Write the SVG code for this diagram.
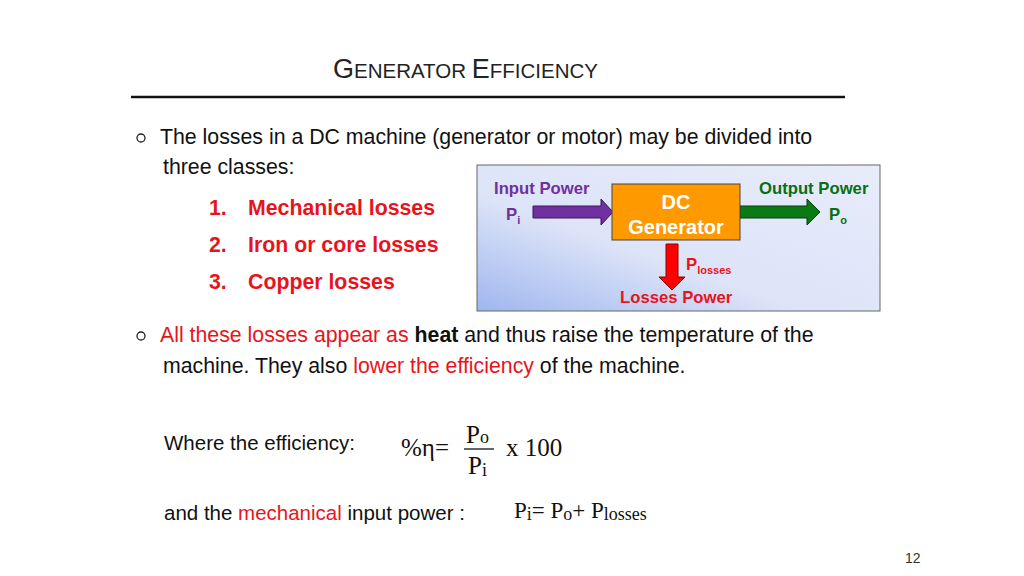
<svg xmlns="http://www.w3.org/2000/svg" width="1024" height="576" viewBox="0 0 1024 576">
<defs>
<linearGradient id="bg" x1="0" y1="1" x2="1" y2="0"><stop offset="0" stop-color="#9fb6ee"/><stop offset="0.4" stop-color="#dde4f8"/><stop offset="1" stop-color="#e8ecfb"/></linearGradient>
</defs>
<style>
text{font-family:"Liberation Sans",Arial,sans-serif}
.b{font-size:21.3px;fill:#111}
.r{fill:#e8141c}
.l{font-size:21.3px;font-weight:bold;fill:#e8141c}
.m{font-family:"Liberation Serif","Times New Roman",serif;fill:#111}
.d{font-weight:bold;font-size:16.7px}
</style>
<rect width="1024" height="576" fill="#fff"/>
<text x="333" y="78" font-family="Open Sans,sans-serif" font-size="27" fill="#222">G<tspan font-size="20.5">ENERATOR </tspan>E<tspan font-size="20.5">FFICIENCY</tspan></text>
<line x1="131" y1="97" x2="845" y2="97" stroke="#111" stroke-width="2.5"/>
<circle cx="141" cy="138" r="4" fill="none" stroke="#222" stroke-width="1.3"/>
<text x="160" y="144" class="b">The losses in a DC machine (generator or motor) may be divided into</text>
<text x="163" y="174" class="b">three classes:</text>
<text x="209" y="215" class="l">1.</text><text x="248" y="215" class="l">Mechanical losses</text>
<text x="209" y="252" class="l">2.</text><text x="248" y="252" class="l">Iron or core losses</text>
<text x="209" y="289" class="l">3.</text><text x="248" y="289" class="l">Copper losses</text>
<g id="panel"><rect x="477" y="165" width="403" height="146" fill="url(#bg)" stroke="#666" stroke-width="1"/></g>
<g id="connectors">
<polygon points="533,206 601,206 601,199 613,212 601,225 601,218 533,218" fill="#7030a0" stroke="#3a1560" stroke-width="1"/>
<polygon points="740,206 807,206 807,199 820,212 807,225 807,218 740,218" fill="#0a7a14" stroke="#063d0a" stroke-width="1"/>
<polygon points="666,244 678,244 678,277 685,277 672,290 659,277 666,277" fill="#ff0000" stroke="#8a0000" stroke-width="1"/>
</g>
<g id="gen"><rect x="612" y="184" width="128" height="56" fill="#ff9900" stroke="#444" stroke-width="1"/>
<text x="676" y="209" text-anchor="middle" font-size="20" font-weight="bold" fill="#fff">DC</text>
<text x="676" y="234" text-anchor="middle" font-size="20" font-weight="bold" fill="#fff">Generator</text></g>
<text x="494" y="194" class="d" fill="#7030a0">Input Power</text>
<text x="506" y="220" class="d" fill="#7030a0">P<tspan font-size="11" dy="4">i</tspan></text>
<text x="759" y="194" class="d" fill="#0a6e12">Output Power</text>
<text x="829" y="220" class="d" fill="#0a6e12">P<tspan font-size="11" dy="4">o</tspan></text>
<text x="686" y="270" class="d r">P<tspan font-size="11" dy="4">losses</tspan></text>
<text x="620" y="303" class="d r">Losses Power</text>
<circle cx="141" cy="336" r="4" fill="none" stroke="#222" stroke-width="1.3"/>
<text x="160" y="342" class="b"><tspan class="r">All these losses appear as </tspan><tspan font-weight="bold">heat</tspan> and thus raise the temperature of the</text>
<text x="163" y="373" class="b">machine. They also <tspan class="r">lower the efficiency</tspan> of the machine.</text>
<text x="164" y="450" font-size="20.5" fill="#111">Where the efficiency:</text>
<text x="401" y="456" class="m" font-size="25">%η=</text>
<line x1="464" y1="449" x2="494" y2="449" stroke="#111" stroke-width="1.3"/>
<text x="466" y="443" class="m" font-size="25">P<tspan font-size="18">o</tspan></text>
<text x="468" y="474" class="m" font-size="25">P<tspan font-size="18" dy="2">i</tspan></text>
<text x="506" y="456" class="m" font-size="25">x 100</text>
<text x="164" y="520" font-size="20.5" fill="#111">and the <tspan class="r">mechanical</tspan> input power :</text>
<text x="514" y="518" class="m" font-size="23">P<tspan font-size="18" dy="2">i</tspan><tspan dy="-2">= P</tspan><tspan font-size="18" dy="2">o</tspan><tspan dy="-2">+ P</tspan><tspan font-size="18" dy="2">losses</tspan></text>
<text x="905" y="563" font-family="Liberation Serif,serif" font-size="14" fill="#333">12</text>
</svg>
